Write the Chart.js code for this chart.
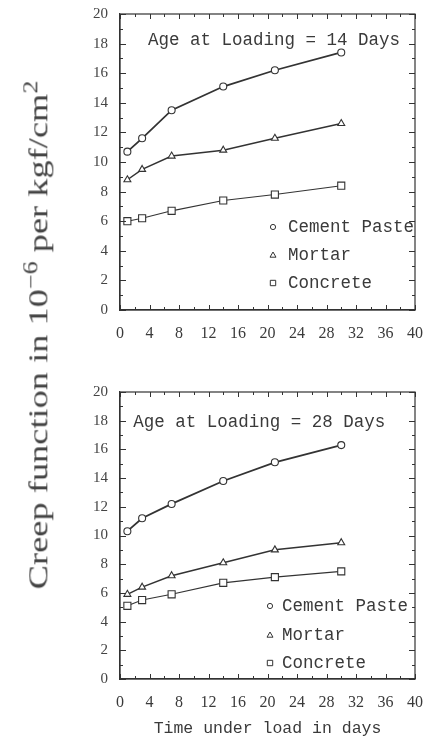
<!DOCTYPE html>
<html>
<head>
<meta charset="utf-8">
<script src="https://cdn.jsdelivr.net/npm/chart.js@4.4.1/dist/chart.umd.min.js"></script>
<style>
    html, body { margin: 0; padding: 0; background: #fff; }
    body { width: 433px; height: 753px; position: relative; overflow: hidden; }
    .panel { position: absolute; left: 0; width: 433px; }
    #top { top: 0; height: 350px; }
    #bottom { top: 350px; height: 403px; }
    #ytitle {
        position: absolute; left: 37px; top: 335px;
        transform: translate(-50%, -50%) rotate(-90deg) scale(1.3, 1);
        white-space: nowrap;
        font: 28px "Liberation Serif", serif;
        color: #444;
    }
    #ytitle sup { font-size: 20px; }
</style>
</head>
<body>
<div class="panel" id="top"><canvas id="chart14"></canvas></div>
<div class="panel" id="bottom"><canvas id="chart28"></canvas></div>
<div id="ytitle">Creep function in 10<sup>−6</sup> per kgf/cm<sup>2</sup></div>

<script>
const days = [1, 3, 7, 14, 21, 30];
const paste14 = [10.7, 11.6, 13.5, 15.1, 16.2, 17.4];
const mortar14 = [8.8, 9.5, 10.4, 10.8, 11.6, 12.6];
const concrete14 = [6.0, 6.2, 6.7, 7.4, 7.8, 8.4];
const paste28 = [10.3, 11.2, 12.2, 13.8, 15.1, 16.3];
const mortar28 = [5.9, 6.4, 7.2, 8.1, 9.0, 9.5];
const concrete28 = [5.1, 5.5, 5.9, 6.7, 7.1, 7.5];
const seriesNames = ["Cement Paste", "Mortar", "Concrete"];
const panelTitles = ["Age at Loading = 14 Days", "Age at Loading = 28 Days"];
const xTitle = "Time under load in days";

const ink = "#333";
const monoFont = '"Liberation Mono", monospace';
const serifFont = '"Liberation Serif", serif';

const pointStyles = ["circle", "triangle", "rect"];
const pointSizes = [3.5, 4, 5];
const lineWidths = [1.8, 1.5, 1.1];

// box, inward ticks, panel note and legend
const framePlugin = {
    id: "frame",
    afterDraw(chart, args, opts) {
        const { ctx, chartArea: a, scales: { x, y } } = chart;
        ctx.save();
        ctx.strokeStyle = ink;
        ctx.lineWidth = 1.2;
        ctx.strokeRect(a.left, a.top, a.width, a.height);

        ctx.beginPath();
        ctx.lineWidth = 1;
        x.ticks.forEach(t => {
            const px = Math.round(x.getPixelForValue(t.value)) + 0.5;
            const len = t.value % 4 === 0 ? 5 : 3;
            ctx.moveTo(px, a.bottom); ctx.lineTo(px, a.bottom - len);
            ctx.moveTo(px, a.top); ctx.lineTo(px, a.top + len);
        });
        y.ticks.forEach(t => {
            const py = Math.round(y.getPixelForValue(t.value)) + 0.5;
            const len = t.value % 2 === 0 ? 6 : 3;
            ctx.moveTo(a.left, py); ctx.lineTo(a.left + len, py);
            ctx.moveTo(a.right, py); ctx.lineTo(a.right - len, py);
        });
        ctx.stroke();

        ctx.fillStyle = "#3a3a3a";
        ctx.font = "17.5px " + monoFont;
        ctx.textBaseline = "middle";
        ctx.textAlign = "left";
        ctx.fillText(opts.note, x.getPixelForValue(opts.noteX), y.getPixelForValue(opts.noteY));

        chart.data.datasets.forEach((ds, i) => {
            const cy = a.bottom - opts.legendRows[i];
            const cx = a.left + opts.legendSym;
            ctx.beginPath();
            ctx.lineWidth = 1;
            if (i === 0) {
                ctx.arc(cx, cy, 2.6, 0, Math.PI * 2);
            } else if (i === 1) {
                ctx.moveTo(cx, cy - 3); ctx.lineTo(cx + 3, cy + 2.2); ctx.lineTo(cx - 3, cy + 2.2); ctx.closePath();
            } else {
                ctx.rect(cx - 2.7, cy - 2.7, 5.4, 5.4);
            }
            ctx.stroke();
            ctx.fillText(ds.label, a.left + opts.legendText, cy);
        });
        ctx.restore();
    }
};

function makeDatasets(values) {
    return values.map((vals, i) => ({
        label: seriesNames[i],
        data: days.map((d, k) => ({ x: d, y: vals[k] })),
        borderColor: ink,
        backgroundColor: "#fff",
        borderWidth: lineWidths[i],
        pointStyle: pointStyles[i],
        pointRadius: pointSizes[i],
        pointBorderWidth: 1.1,
        pointBorderColor: ink,
        pointBackgroundColor: "#fff",
        tension: 0
    }));
}

function makeChart(canvasId, values, frame, withTitle) {
    const xHeight = frame.xHeight;
    return new Chart(document.getElementById(canvasId), {
        type: "line",
        data: { datasets: makeDatasets(values) },
        options: {
            responsive: true,
            maintainAspectRatio: false,
            animation: false,
            layout: { padding: { top: frame.top, right: 18, left: 0, bottom: 0 } },
            plugins: {
                legend: { display: false },
                tooltip: { enabled: false },
                frame: frame
            },
            scales: {
                x: {
                    type: "linear",
                    min: 0,
                    max: 40,
                    grid: { display: false, drawTicks: false },
                    border: { display: true, color: ink, width: 1.2 },
                    ticks: {
                        stepSize: 2,
                        autoSkip: false,
                        maxRotation: 0,
                        padding: 14,
                        color: "#3a3a3a",
                        font: { family: serifFont, size: 16 },
                        callback: v => (v % 4 === 0 ? v : "")
                    },
                    title: {
                        display: withTitle,
                        text: xTitle,
                        color: "#3a3a3a",
                        font: { family: monoFont, size: 16.5 },
                        padding: { top: 0, bottom: 14 }
                    },
                    afterFit: s => {
                        s.height = xHeight;
                        s.paddingLeft = 0;
                        s.paddingRight = 0;
                    }
                },
                y: {
                    min: 0,
                    max: 20,
                    grid: { display: false, drawTicks: false },
                    border: { display: true, color: ink, width: 1.2 },
                    ticks: {
                        stepSize: 1,
                        autoSkip: false,
                        padding: 12,
                        color: "#444",
                        font: { family: serifFont, size: 15 },
                        callback: v => (v % 2 === 0 ? v : "")
                    },
                    afterFit: s => {
                        s.width = 120;
                        s.paddingTop = 0;
                        s.paddingBottom = 0;
                    }
                }
            }
        },
        plugins: [framePlugin]
    });
}

makeChart("chart14", [paste14, mortar14, concrete14], {
    top: 14, xHeight: 40,
    note: panelTitles[0], noteX: 3.8, noteY: 18.2,
    legendRows: [83, 55, 27], legendSym: 153, legendText: 168
}, false);

makeChart("chart28", [paste28, mortar28, concrete28], {
    top: 42, xHeight: 74,
    note: panelTitles[1], noteX: 1.8, noteY: 17.9,
    legendRows: [73, 44, 16], legendSym: 150, legendText: 162
}, true);
</script>
</body>
</html>
